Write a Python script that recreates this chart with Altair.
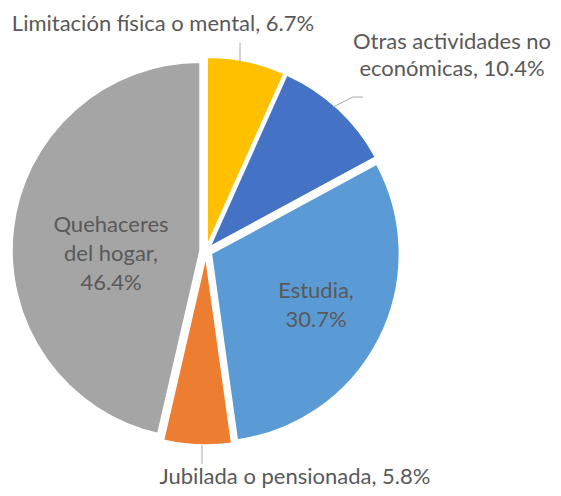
import altair as alt
import pandas as pd

categories = ["Limitación física o mental", "Otras actividades no económicas", "Estudia",
              "Jubilada o pensionada", "Quehaceres del hogar"]
values = [6.7, 10.4, 30.7, 5.8, 46.4]
label_prefix = ["Limitación física o mental, ", "Otras actividades no\neconómicas, ", "Estudia,\n",
                "Jubilada o pensionada, ", "Quehaceres\ndel hogar,\n"]
colors = ["#FFC000", "#4472C4", "#5B9BD5", "#ED7D31", "#A5A5A5"]

df = pd.DataFrame({"cat": categories, "value": values, "prefix": label_prefix,
                   "order": list(range(len(categories)))})

CX, CY, R, D = 198, 243, 188, 6
FONT = "Lato"
TXT = "#595959"

base = alt.Chart(df).transform_window(
    cum="sum(value)", sort=[alt.SortField("order")], frame=[None, 0]
).transform_joinaggregate(total="sum(value)").transform_calculate(
    t1="2*PI*datum.cum/datum.total",
    t0="2*PI*(datum.cum-datum.value)/datum.total",
).transform_calculate(
    mid="(datum.t0+datum.t1)/2"
).transform_calculate(
    px=f"{CX}+{D}*sin(datum.mid)",
    py=f"{CY}-{D}*cos(datum.mid)",
)

pie = base.mark_arc(outerRadius=R, stroke="white", strokeWidth=1.5).encode(
    x=alt.X("px:Q", scale=None, axis=None),
    y=alt.Y("py:Q", scale=None, axis=None),
    theta=alt.Theta("t0:Q", scale=None),
    theta2="t1:Q",
    color=alt.Color("cat:N", scale=alt.Scale(domain=categories, range=colors), legend=None),
)

def label(cat, x, y, lh=29):
    return alt.Chart(df).transform_filter(alt.datum.cat == cat).transform_calculate(
        lab="datum.prefix + format(datum.value, '.1f') + '%'"
    ).mark_text(font=FONT, fontSize=22, color=TXT, lineBreak="\n", lineHeight=lh,
                align="center", baseline="alphabetic").encode(
        x=alt.value(x), y=alt.value(y), text="lab:N")

def leader(cat, pts):
    layers = []
    for (x1, y1), (x2, y2) in zip(pts[:-1], pts[1:]):
        layers.append(alt.Chart(df).transform_filter(alt.datum.cat == cat).mark_rule(
            color="#A6A6A6", strokeWidth=1).encode(
            x=alt.value(x1), y=alt.value(y1), x2=alt.value(x2), y2=alt.value(y2)))
    return layers

layers = [pie,
          label(categories[0], 155, 23),
          label(categories[1], 444, 41, lh=27),
          label(categories[2], 308, 290),
          label(categories[3], 287, 476),
          label(categories[4], 103, 224)]
layers += leader(categories[0], [(232, 35), (232, 54)])
layers += leader(categories[1], [(325, 99), (345, 89), (355, 89)])
layers += leader(categories[3], [(194, 437), (194, 456)])

chart = alt.layer(*layers).properties(
    width=545, height=480, autosize="none", padding=0
).configure_view(stroke=None)

chart.save("out.html", embed_options={"renderer": "svg", "actions": False})
